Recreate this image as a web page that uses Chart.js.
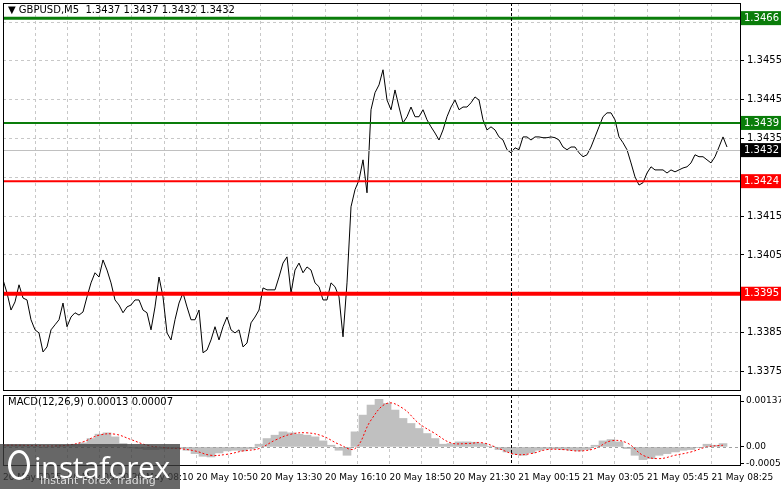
<!DOCTYPE html>
<html><head><meta charset="utf-8">
<script src="https://cdn.jsdelivr.net/npm/chart.js@4"></script>
<style>
body{margin:0;background:#fff;width:781px;height:489px;overflow:hidden;position:relative;font-family:"DejaVu Sans",sans-serif}
canvas{position:absolute;left:0}
#c1{top:0}#c2{top:392px}
#logo{position:absolute;left:0;top:444px;width:180px;height:45px;background:rgba(60,60,60,0.78);color:#fff}
#logo .a{position:absolute;left:34px;top:2px;font:30px "Open Sans",sans-serif;letter-spacing:-0.5px}
#logo .b{position:absolute;left:40px;top:30px;font:11px "DejaVu Sans",sans-serif;color:#ddd}
#logo .i{position:absolute;left:8px;top:6px;width:22px;height:30px;border:3px solid #fff;border-radius:50%;box-sizing:border-box}
</style></head><body>
<canvas id="c1" width="781" height="392"></canvas>
<canvas id="c2" width="781" height="97"></canvas>
<div id="logo"><div class="i"></div><div class="a">instaforex</div><div class="b">Instant Forex Trading</div></div>
<script>
const TITLE = "\u25BC GBPUSD,M5  1.3437 1.3437 1.3432 1.3432";
const MACD_TITLE = "MACD(12,26,9) 0.00013 0.00007";
const timeLabels = ["20 May 2025","20 May 05:30","20 May 08:10","20 May 10:50","20 May 13:30","20 May 16:10","20 May 18:50","20 May 21:30","21 May 00:15","21 May 03:05","21 May 05:45","21 May 08:25"];
const priceTicks = [1.3455,1.3445,1.3435,1.3415,1.3405,1.3385,1.3375];
const gridPrices = [1.3465,1.3455,1.3445,1.3435,1.3425,1.3415,1.3405,1.3395,1.3385,1.3375];
const levels = [
 {v:1.3466,c:"#0a7d0a",w:3},{v:1.3439,c:"#0a7d0a",w:2},
 {v:1.3424,c:"#ff0000",w:2},{v:1.3395,c:"#ff0000",w:4}];
const lastPrice = 1.3432;
const daySep = 15.78;
const prices = [1.33986,1.33952,1.33908,1.33929,1.33973,1.33939,1.33934,1.33883,1.33857,1.33849,1.33800,1.33813,1.33857,1.33870,1.33883,1.33926,1.33865,1.33890,1.33901,1.33895,1.33903,1.33942,1.33978,1.34004,1.33993,1.34037,1.34011,1.33978,1.33934,1.33921,1.33901,1.33916,1.33921,1.33934,1.33934,1.33908,1.33901,1.33857,1.33916,1.33993,1.33942,1.33849,1.33831,1.33883,1.33926,1.33952,1.33916,1.33883,1.33883,1.33908,1.33798,1.33805,1.33831,1.33865,1.33831,1.33865,1.33890,1.33857,1.33849,1.33857,1.33813,1.33823,1.33875,1.33890,1.33908,1.33965,1.33960,1.33960,1.33960,1.33993,1.34029,1.34045,1.33952,1.34011,1.34029,1.34004,1.34019,1.34011,1.33978,1.33968,1.33934,1.33934,1.33978,1.33968,1.33942,1.33839,1.33978,1.34174,1.34218,1.34243,1.34295,1.34210,1.34424,1.34468,1.34488,1.34527,1.34449,1.34424,1.34475,1.34431,1.34390,1.34406,1.34431,1.34406,1.34406,1.34424,1.34398,1.34380,1.34364,1.34346,1.34372,1.34406,1.34431,1.34449,1.34424,1.34431,1.34431,1.34442,1.34457,1.34449,1.34398,1.34372,1.34380,1.34372,1.34354,1.34346,1.34321,1.34313,1.34326,1.34321,1.34354,1.34354,1.34346,1.34354,1.34354,1.34352,1.34352,1.34354,1.34352,1.34346,1.34328,1.34321,1.34328,1.34328,1.34313,1.34303,1.34308,1.34328,1.34354,1.34380,1.34406,1.34416,1.34416,1.34398,1.34354,1.34339,1.34321,1.34287,1.34251,1.34230,1.34236,1.34261,1.34277,1.34269,1.34269,1.34269,1.34261,1.34269,1.34264,1.34269,1.34274,1.34277,1.34287,1.34308,1.34303,1.34303,1.34295,1.34287,1.34303,1.34328,1.34354,1.34328];
const histE5 = [5,5,5,3,2,-2,0,5,5,8,12,25,38,42,30,10,-3,-5,-8,-8,-6,-5,-5,-10,-20,-28,-30,-18,-12,-10,-12,-6,8,25,35,45,42,38,35,30,18,5,-10,-25,45,95,125,142,130,110,85,70,55,40,25,8,10,15,15,14,10,2,-8,-15,-22,-25,-18,-10,-6,-6,-8,-10,-12,-8,5,18,22,15,-5,-25,-38,-35,-25,-20,-15,-10,-8,-2,8,5,10];
const signalE5 = [5,5,4,3,5,15,35,38,22,5,-2,-5,-12,-25,-22,-12,-5,20,38,42,32,8,-5,80,130,115,70,40,12,10,12,-5,-22,-20,-8,-8,-12,-5,18,12,-25,-35,-25,-15,0,5];

const PXU = 32.2, XMAX = 737/PXU;
const priceStep = 4/PXU, histStep = 8/PXU, sigStep = 16/PXU;
const font = {family:"DejaVu Sans",size:10};
const smallFont = {family:"DejaVu Sans",size:9};
Chart.defaults.animation = false;
const dash = [3,3];
function xScale(showLabels){
  return {type:'linear',min:0,max:XMAX,offset:false,
    afterBuildTicks(s){const t=[];for(let u=0;u<=22;u++)t.push({value:u});s.ticks=t;},
    afterFit(s){s.height=showLabels?24:0;s.paddingLeft=0;s.paddingRight=0;},
    grid:{color:'#c8c8c8',drawTicks:false,offset:false},
    border:{display:false,dash:dash},
    ticks:{display:showLabels,autoSkip:false,maxRotation:0,align:'start',padding:7,color:'#000',font:smallFont,
      callback(v){return (v%2===0)?timeLabels[v/2]:'';}}};
}
function yFit(s){s.width=41;s.paddingTop=0;s.paddingBottom=0;}
function framePlugin(title){return {id:'frame',afterDraw(c){
  const a=c.chartArea,x=c.ctx;x.save();x.strokeStyle='#000';x.lineWidth=1;
  x.strokeRect(a.left+0.5,a.top+0.5,a.right-a.left,a.bottom-a.top);
  const sx=Math.round(c.scales.x.getPixelForValue(daySep))+0.5;
  x.setLineDash([3,2]);x.beginPath();x.moveTo(sx,a.top);x.lineTo(sx,a.bottom);x.stroke();
  x.setLineDash([]);x.fillStyle='#000';x.font='10px "DejaVu Sans"';x.textBaseline='middle';x.fillText(title,a.left+5,a.top+7);
  x.restore();}};}
const levelPlugin={id:'levels',afterDatasetsDraw(c){
  const a=c.chartArea,x=c.ctx,ys=c.scales.y;x.save();
  const gy=ys.getPixelForValue(lastPrice);
  x.strokeStyle='#c0c0c0';x.lineWidth=1;x.beginPath();x.moveTo(a.left,Math.round(gy)+0.5);x.lineTo(a.right,Math.round(gy)+0.5);x.stroke();
  levels.forEach(l=>{const y=ys.getPixelForValue(l.v);x.strokeStyle=l.c;x.lineWidth=l.w;x.beginPath();x.moveTo(a.left,y);x.lineTo(a.right,y);x.stroke();});
  const box=(v,bg)=>{const y=ys.getPixelForValue(v);x.fillStyle=bg;x.fillRect(a.right+1,y-7,40,14);x.fillStyle='#fff';x.font='10px "DejaVu Sans"';x.textBaseline='middle';x.fillText(v.toFixed(4),a.right+4,y);};
  levels.forEach(l=>box(l.v,l.c));box(lastPrice,'#000');
  x.restore();}};
const zeroPlugin={id:'zero',afterDatasetsDraw(c){
  const a=c.chartArea,x=c.ctx,y=Math.round(c.scales.y.getPixelForValue(0))+0.5;
  x.save();x.strokeStyle='#a0a0a0';x.lineWidth=1;x.setLineDash([3,3]);
  x.beginPath();x.moveTo(a.left,y);x.lineTo(a.right,y);x.stroke();x.restore();}};
new Chart(document.getElementById('c1'),{type:'line',
  data:{datasets:[{data:prices.map((v,i)=>({x:i*priceStep,y:v})),borderColor:'#000',borderWidth:1,pointRadius:0,tension:0}]},
  options:{responsive:false,layout:{autoPadding:false,padding:{left:3,top:3,bottom:2,right:0}},
    plugins:{legend:{display:false},tooltip:{enabled:false}},
    scales:{x:xScale(false),
      y:{position:'right',min:1.33702,max:1.34699,afterFit:yFit,
        afterBuildTicks(s){s.ticks=gridPrices.map(v=>({value:v}));},
        grid:{color:'#c8c8c8',drawTicks:true,tickLength:4,tickColor:'#000'},border:{display:false,dash:dash},
        ticks:{color:'#000',font,padding:3,callback(v){return priceTicks.some(p=>Math.abs(p-v)<1e-7)?v.toFixed(4):'';}}}}},
  plugins:[framePlugin(TITLE),levelPlugin]});
new Chart(document.getElementById('c2'),{type:'bar',
  data:{datasets:[
    {type:'line',data:signalE5.map((v,i)=>({x:i*sigStep,y:v*1e-5})),borderColor:'#ff0000',borderWidth:1,borderDash:[2,2],pointRadius:0,tension:0.4,order:0},
    {type:'bar',data:histE5.map((v,i)=>({x:i*histStep,y:v*1e-5})),backgroundColor:'#c0c0c0',barThickness:8,order:1}]},
  options:{responsive:false,layout:{autoPadding:false,padding:{left:3,top:3,bottom:0,right:0}},
    plugins:{legend:{display:false},tooltip:{enabled:false}},
    scales:{x:xScale(true),
      y:{position:'right',min:-0.00054,max:0.00155,afterFit:yFit,
        afterBuildTicks(s){s.ticks=[{value:0.00137},{value:0},{value:-0.0005}];},
        grid:{color:'rgba(0,0,0,0)',drawTicks:true,tickLength:4,tickColor:'#000'},border:{display:false},
        ticks:{color:'#000',font:smallFont,padding:2,callback(v){return v===0?'0.00':(v>0?'0.00137':'-0.0005');}}}}},
  plugins:[framePlugin(MACD_TITLE),zeroPlugin]});
</script></body></html>
